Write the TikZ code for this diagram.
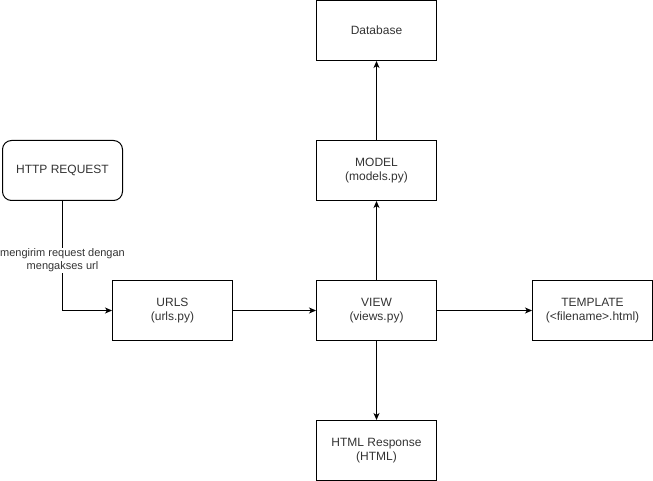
\documentclass[tikz,border=0pt]{standalone}
\usepackage{fontspec}
\setmainfont{Liberation Sans}
\usetikzlibrary{arrows.meta}
\definecolor{txtgray}{HTML}{333333}
\tikzset{
  box/.style={draw, line width=1pt, minimum width=120pt, minimum height=60pt,
    align=center, text=txtgray, font=\fontsize{12pt}{14pt}\selectfont, inner sep=0pt},
  roundbox/.style={box, rounded corners=9pt},
  flow/.style={line width=1pt, -{Stealth[length=7pt,width=6pt,inset=2pt]}},
  edgelabel/.style={fill=white, text=txtgray, align=center, inner sep=1pt,
    font=\fontsize{11pt}{13pt}\selectfont}
}
\begin{document}
\begin{tikzpicture}[x=1pt,y=-1pt]
  \useasboundingbox (0,0) rectangle (653,481);
  \draw
    (62.5,170.5) node[roundbox] (http){HTTP REQUEST}
    (172.5,310.5) node[box] (urls){URLS\\(urls.py)}
    (376.5,310.5) node[box] (view){VIEW\\(views.py)}
    (592.5,310.5) node[box] (template){TEMPLATE\\(<filename>.html)}
    (376.5,170.5) node[box] (model){MODEL\\(models.py)}
    (376.5,30.5) node[box] (db){Database}
    (376.5,450.5) node[box] (resp){HTML Response\\(HTML)};
  \begin{scope}[flow]
    \draw (http.south) |- (urls.west)
      node[pos=0.27, edgelabel] (lbl){mengirim request dengan\\mengakses url};
    \draw (urls) to (view);
    \draw (view) to (template);
    \draw (view) to (model);
    \draw (model) to (db);
    \draw (view) to (resp);
  \end{scope}
\end{tikzpicture}
\end{document}
